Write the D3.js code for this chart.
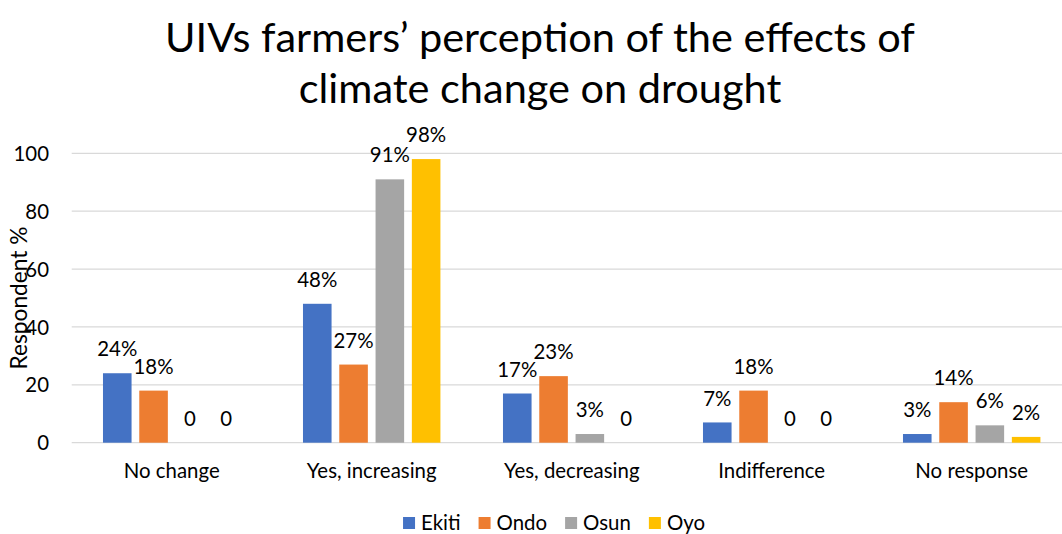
<!DOCTYPE html>
<html>
<head>
<meta charset="utf-8">
<script src="https://cdn.jsdelivr.net/npm/d3@7"></script>
<style>
  html, body { margin: 0; padding: 0; background: #fff; }
  svg { display: block; font-family: Lato, "Open Sans", sans-serif; }
</style>
</head>
<body>
<svg id="chart" width="1062" height="534"></svg>
<script>
const categories = ["No change", "Yes, increasing", "Yes, decreasing", "Indifference", "No response"];
const seriesNames = ["Ekiti", "Ondo", "Osun", "Oyo"];
const ekiti = [24, 48, 17, 7, 3];
const ondo  = [18, 27, 23, 18, 14];
const osun  = [0, 91, 3, 0, 6];
const oyo   = [0, 98, 0, 0, 2];
const yTicks = [0, 20, 40, 60, 80, 100];
const titleLines = ["UIVs farmers\u2019 perception of the effects of", "climate change on drought"];
const yTitle = "Respondent %";

const seriesValues = [ekiti, ondo, osun, oyo];
const colors = ["#4472C4", "#ED7D31", "#A5A5A5", "#FFC000"];

const svg = d3.select("#chart");

// helper: font size so that a reference string reaches a target width
function fitSize(text, baseSize, targetWidth) {
  const t = svg.append("text").attr("font-size", baseSize).text(text);
  const w = t.node().getComputedTextLength();
  t.remove();
  return baseSize * targetWidth / w;
}
const fsSmall = fitSize("No change", 22, 96);
const fsTitle = fitSize(titleLines[0], 40, 750);
const fsYTitle = fitSize(yTitle, 24, 143);

const plotLeft = 71.7, plotRight = 1071.7, y0px = 442.7, y100px = 153.3;

const x0 = d3.scaleBand().domain(categories).range([plotLeft, plotRight]).paddingInner(0).paddingOuter(0);
const x1 = d3.scaleBand().domain(seriesNames).range([0, x0.bandwidth()])
  .paddingInner(0.27 / 1.27).paddingOuter(0.862);
const y = d3.scaleLinear().domain([0, 100]).range([y0px, y100px]);

// gridlines
const grid = svg.append("g");
grid.selectAll("line").data(yTicks).join("line")
  .attr("x1", plotLeft).attr("x2", plotRight)
  .attr("y1", d => y(d)).attr("y2", d => y(d))
  .attr("stroke", "#D9D9D9").attr("stroke-width", 1.3);

// y axis (labels only)
const yAxis = d3.axisLeft(y).tickValues(yTicks).tickSize(0).tickPadding(0);
const yg = svg.append("g").attr("transform", "translate(49,0)").call(yAxis);
yg.select(".domain").remove();
yg.selectAll("text").attr("font-size", fsSmall).attr("fill", "#000")
  .attr("font-family", "Lato, 'Open Sans', sans-serif").attr("dy", "0.35em").attr("x", 0);

// x axis (labels only)
const xAxis = d3.axisBottom(x0).tickSize(0).tickPadding(0);
const xg = svg.append("g").attr("transform", `translate(0,${y0px})`).call(xAxis);
xg.select(".domain").remove();
xg.selectAll("text").attr("font-size", fsSmall).attr("fill", "#000")
  .attr("font-family", "Lato, 'Open Sans', sans-serif").attr("y", 35.5).attr("dy", 0);

// bars
const rows = categories.map((c, i) => ({ cat: c, vals: seriesNames.map((s, j) => ({ s, j, v: seriesValues[j][i] })) }));
const groups = svg.append("g").selectAll("g").data(rows).join("g")
  .attr("transform", d => `translate(${x0(d.cat)},0)`);
groups.selectAll("rect").data(d => d.vals).join("rect")
  .attr("x", d => x1(d.s)).attr("width", x1.bandwidth())
  .attr("y", d => y(d.v)).attr("height", d => y(0) - y(d.v))
  .attr("fill", d => colors[d.j]);
groups.selectAll("text").data(d => d.vals).join("text")
  .attr("x", d => x1(d.s) + x1.bandwidth() / 2)
  .attr("y", d => y(d.v) - 24).attr("dy", "0.35em")
  .attr("text-anchor", "middle").attr("font-size", fsSmall).attr("fill", "#000")
  .text(d => d.v === 0 ? "0" : d.v + "%");

// title
svg.append("g").selectAll("text").data(titleLines).join("text")
  .attr("x", 540).attr("y", (d, i) => 52 + i * 51)
  .attr("text-anchor", "middle").attr("font-size", fsTitle).attr("fill", "#000")
  .text(d => d);

// y title
svg.append("text")
  .attr("transform", "translate(26.5,298) rotate(-90)")
  .attr("text-anchor", "middle").attr("font-size", fsYTitle).attr("fill", "#000")
  .text(yTitle);

// legend
const legend = svg.append("g");
const items = legend.selectAll("g").data(seriesNames).join("g");
items.append("rect").attr("width", 12).attr("height", 12).attr("y", 517).attr("fill", (d, i) => colors[i]);
items.append("text").attr("x", 18).attr("y", 529.5).attr("font-size", fsSmall).attr("fill", "#000").text(d => d);
let widths = [];
items.each(function () { widths.push(18 + d3.select(this).select("text").node().getComputedTextLength()); });
const gap = 18;
const total = d3.sum(widths) + gap * (widths.length - 1);
let cx = 554 - total / 2;
items.attr("transform", (d, i) => { const t = `translate(${cx},0)`; cx += widths[i] + gap; return t; });
</script>
</body>
</html>
